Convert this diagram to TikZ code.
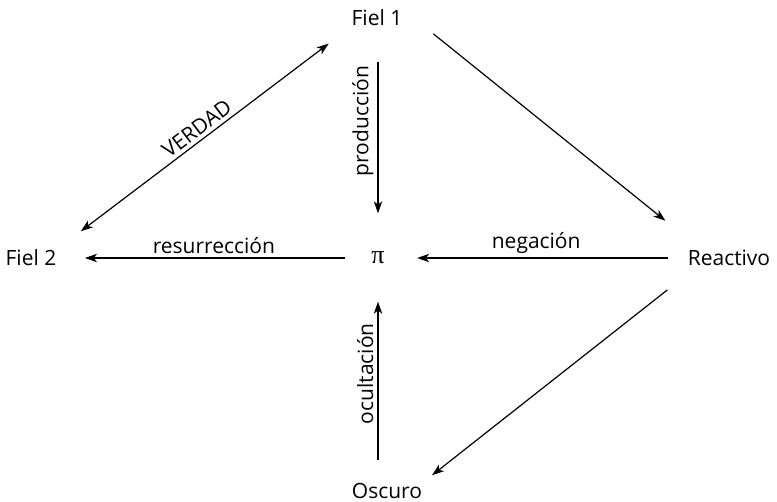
\documentclass[tikz,border=0pt]{standalone}
\usepackage{fontspec}
\setmainfont{Open Sans}
\newfontfamily\pifont{Liberation Serif}
\usetikzlibrary{arrows.meta}
\tikzset{
  tip/.tip={Stealth[length=6pt,width=4.2pt,inset=1.6pt]},
}
\begin{document}
\begin{tikzpicture}[x=0.5pt, y=-0.5pt, line width=0.6pt,
    every node/.style={font=\fontsize{10.5}{12}\selectfont},
    term/.style={inner sep=0pt},
    arr/.style={-tip},
    lab/.style={inner sep=2pt}]
  \useasboundingbox (0,0) rectangle (777,502);
  \node[term] (f1) at (377,18) {Fiel 1};
  \node[term] (f2) at (31,258) {Fiel 2};
  \node[term, font=\fontsize{13}{14}\pifont] (pi) at (378,258) {π};
  \node[term] (re) at (729,258) {Reactivo};
  \node[term] (os) at (387,491) {Oscuro};
  % the one double arrow
  \draw[tip-tip, shorten <=15pt, shorten >=14pt] (f2.north east)
    -- node[lab, midway, above, sloped] {VERDAD} (f1.south west);
  \draw[arr, shorten <=19.5pt, shorten >=23pt] (f1.north east) -- ([xshift=7pt]re.north west);
  \draw[arr, shorten <=19pt, shorten >=6pt] ([xshift=5pt]re.south west) -- (os.north east);
  % everything meets at pi
  \draw[arr, shorten <=17.5pt, shorten >=19pt] (f1.south -| pi) -- node[lab, pos=0.42, rotate=90, anchor=south] {producción} (pi);
  \draw[arr, shorten <=11.5pt, shorten >=18.5pt] (os.north -| pi) -- node[lab, midway, rotate=90, anchor=south] {ocultación} (pi);
  \draw[arr, shorten <=9.5pt, shorten >=16pt] (re) -- node[lab, midway, above] {negación} (pi);
  \draw[arr, shorten <=13pt, shorten >=14pt] (pi) -- node[lab, midway, above] {resurrección} (f2);
\end{tikzpicture}
\end{document}
